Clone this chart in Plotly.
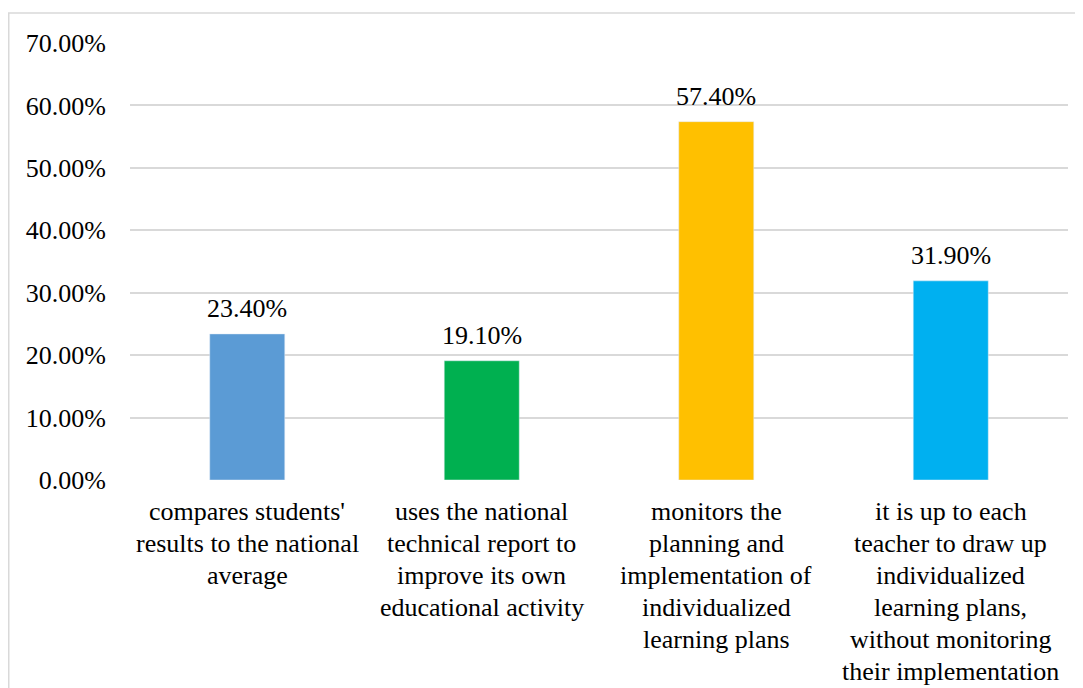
import plotly.graph_objects as go

categories = [
    "compares students'<br>results to the national<br>average",
    "uses the national<br>technical report to<br>improve its own<br>educational activity",
    "monitors the<br>planning and<br>implementation of<br>individualized<br>learning plans",
    "it is up to each<br>teacher to draw up<br>individualized<br>learning plans,<br>without monitoring<br>their implementation",
]
values = [0.234, 0.191, 0.574, 0.319]
colors = ["#5B9BD5", "#00B050", "#FFC000", "#00B0F0"]
FONT = "Liberation Serif, Times New Roman, serif"
FS = 26
LINE_GAP = 32

# page body has an 8px default margin, so the figure is 8px smaller
W, H = 1075, 680
L, R, T, B = 122, 15, 35, 208
pw, ph = W - L - R, H - T - B

xs = list(range(len(categories)))
fig = go.Figure(go.Bar(
    x=xs, y=values, marker_color=colors, width=0.32, hoverinfo="y",
))
for xi, v in zip(xs, values):
    fig.add_annotation(x=xi, y=v, text=f"{v*100:.2f}%", showarrow=False,
                       yanchor="bottom", yshift=9, font=dict(family=FONT, size=FS, color="#000"))
# category labels, one annotation per line for Excel-like line spacing
for xi, lab in zip(xs, categories):
    for k, line in enumerate(lab.split("<br>")):
        fig.add_annotation(x=xi, y=0, text=line, showarrow=False, yanchor="middle",
                           yshift=-(31 + LINE_GAP * k), font=dict(family=FONT, size=FS, color="#000"))
fig.update_layout(
    width=W, height=H, margin=dict(l=L, r=R, t=T, b=B, autoexpand=False),
    plot_bgcolor="white", paper_bgcolor="white", showlegend=False,
    font=dict(family=FONT, size=FS, color="#000"),
)
fig.update_xaxes(tickmode="array", tickvals=xs, showticklabels=False, automargin=False,
                 range=[-0.5, 3.5], showgrid=False, zeroline=False, showline=False)
fig.update_yaxes(range=[0, 0.7], dtick=0.1, tickformat=".2%", showgrid=True, automargin=False,
                 gridcolor="#d9d9d9", gridwidth=1.5, zeroline=False, showline=False,
                 ticklabelstandoff=23, tickfont=dict(size=FS))
# outer chart border
fig.add_shape(type="rect", xref="paper", yref="paper",
              x0=(0.75 - L) / pw, x1=(1100 - L) / pw, y0=(H - 700 - B) / ph, y1=(H - 5 - B) / ph,
              line=dict(color="#d9d9d9", width=1.5), fillcolor="rgba(0,0,0,0)", layer="below")
fig.write_html("out.html")
